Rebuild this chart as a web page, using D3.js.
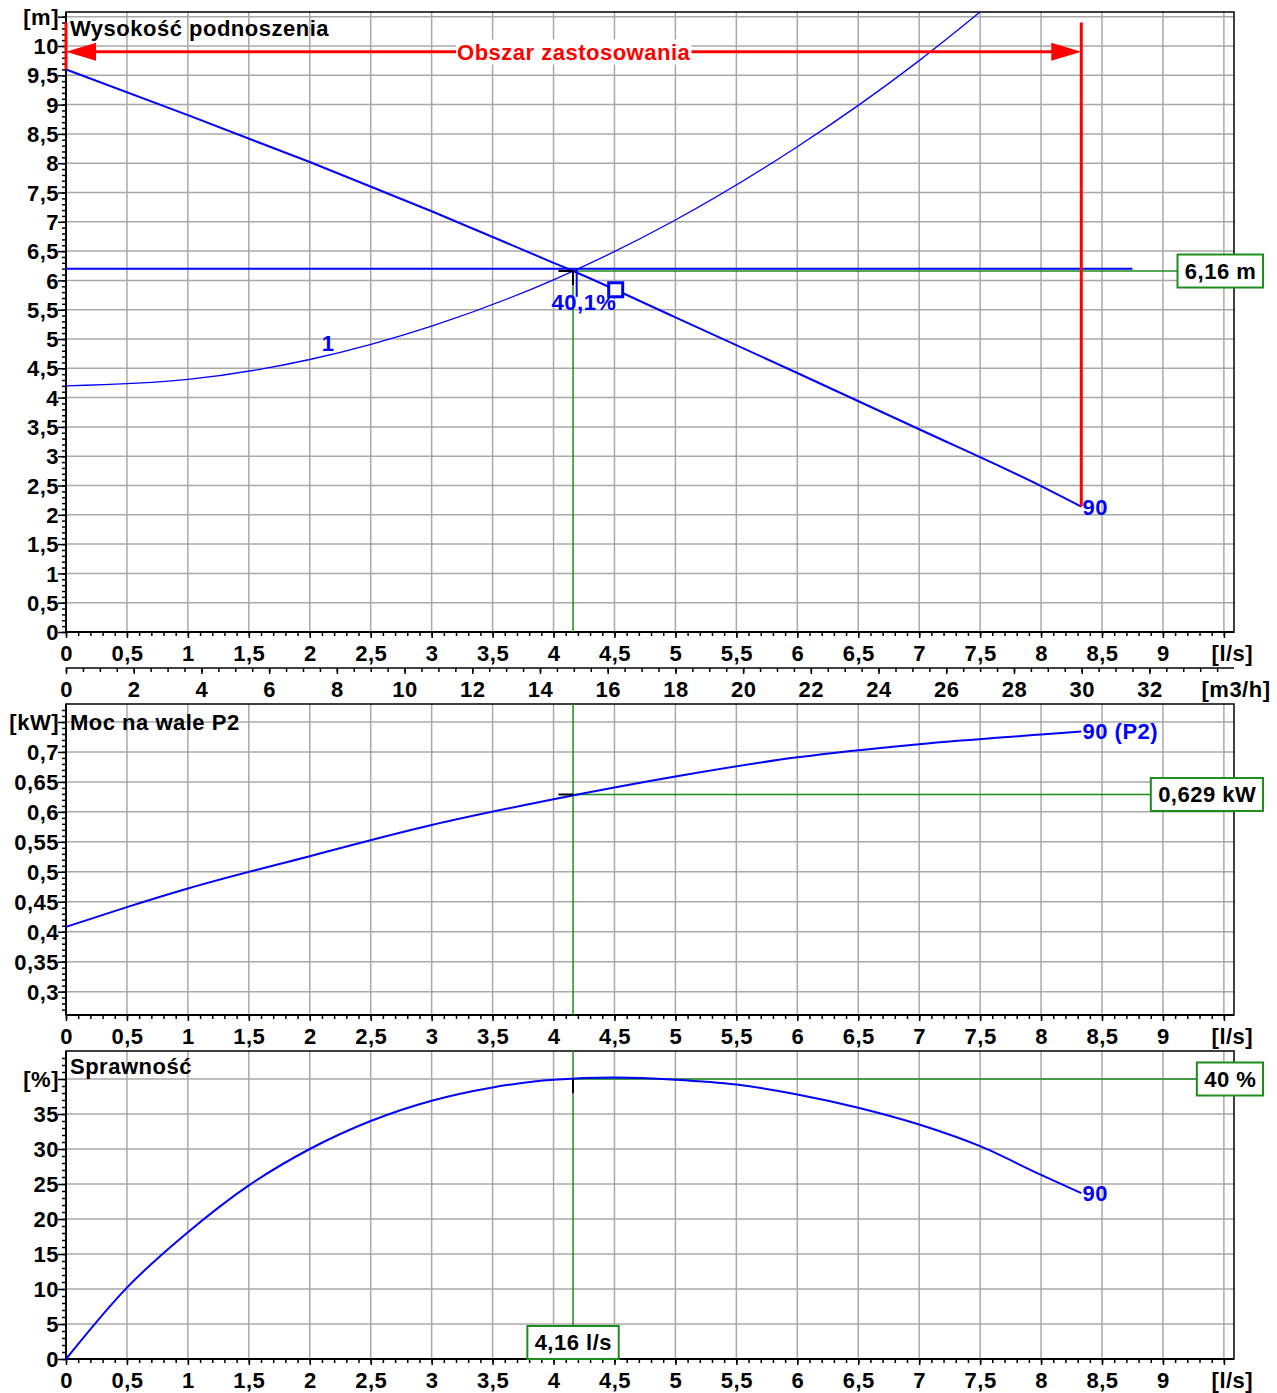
<!DOCTYPE html>
<html>
<head>
<meta charset="utf-8">
<script src="https://cdn.jsdelivr.net/npm/d3@7"></script>
<style>
  body { margin: 0; background: #fff; }
  text { font-family: "Liberation Sans", Arial, sans-serif; font-weight: bold; letter-spacing: 0.5px; }
</style>
</head>
<body>
<div id="chart"></div>
<script>
// ---- data (flow in l/s) ----
const pumpQ = [0, 1, 2, 3, 4, 4.16, 5, 6, 7, 8, 8.33];
const pumpH = [9.6, 8.82, 8.02, 7.18, 6.3, 6.16, 5.37, 4.42, 3.46, 2.49, 2.14];

const sysQ = [0, 1, 2, 3, 4, 5, 6, 7, 7.5];
const sysH = [4.2, 4.31, 4.65, 5.22, 6.01, 7.03, 8.28, 9.75, 10.58];

const powQ = [0, 0.5, 1, 2, 3, 4, 5, 6, 7, 8, 8.33];
const powP = [0.408, 0.441, 0.472, 0.526, 0.578, 0.621, 0.659, 0.691, 0.713, 0.729, 0.734];

const effQ = [0, 0.5, 1, 1.5, 2, 2.5, 3, 3.5, 4, 4.5, 5, 5.5, 6, 6.5, 7, 7.5, 8, 8.33];
const effE = [0, 10.2, 18.1, 24.8, 30, 34, 36.9, 38.8, 39.9, 40.2, 39.9, 39.2, 37.8, 35.9, 33.5, 30.4, 26.3, 23.7];

// operating point, best efficiency point, duty line
const opQ = 4.16, opH = 6.16, opP = 0.629, opEta = 40, opEtaPump = 40.1;
const bepQ = 4.51, bepH = 5.84;
const dutyH = 6.2, dutyQmax = 8.75;
const appQ = [0, 8.33], appTopH = 10.4, appArrowH = 9.9;

// tick labels
const xTicksLs = [0, 0.5, 1, 1.5, 2, 2.5, 3, 3.5, 4, 4.5, 5, 5.5, 6, 6.5, 7, 7.5, 8, 8.5, 9, 9.5];
const xTicksM3h = [0, 2, 4, 6, 8, 10, 12, 14, 16, 18, 20, 22, 24, 26, 28, 30, 32];
const yTicksH = [0, 0.5, 1, 1.5, 2, 2.5, 3, 3.5, 4, 4.5, 5, 5.5, 6, 6.5, 7, 7.5, 8, 8.5, 9, 9.5, 10, 10.5];
const yTicksP = [0.3, 0.35, 0.4, 0.45, 0.5, 0.55, 0.6, 0.65, 0.7, 0.75];
const yTicksE = [0, 5, 10, 15, 20, 25, 30, 35, 40];

const W = 1277, H = 1393, FS = 22;
const blue = '#0000ff', red = '#ff0000', green = '#1f8c1f', grid = '#a8a8a8';
const fmt = d => String(d).replace('.', ',');

const svg = d3.select('#chart').append('svg')
  .attr('width', W).attr('height', H);

const x = d3.scaleLinear().domain([0, 9.583]).range([66, 1234]);
const xm3 = d3.scaleLinear().domain([0, 9.583 * 3.6]).range([66, 1234]);

const yH = d3.scaleLinear().domain([0, 10.58]).range([632, 12]);
const yP = d3.scaleLinear().domain([0.261, 0.78]).range([1015, 704]);
const yE = d3.scaleLinear().domain([0, 44]).range([1359, 1051]);

function styleAxis(g) {
  g.select('.domain').remove();
  g.selectAll('.tick line').attr('stroke', '#000').attr('stroke-width', 1.5);
  g.selectAll('text').attr('font-size', FS).attr('font-weight', 'bold')
    .attr('font-family', '"Liberation Sans", Arial, sans-serif').attr('fill', '#000');
}

function xAxisAt(yPos, scale, ticks, minorStep, unit) {
  const g = svg.append('g').attr('transform', `translate(0,${yPos})`);
  const dmax = scale.domain()[1];
  g.append('g').call(d3.axisBottom(scale).tickValues(d3.range(0, dmax, minorStep)).tickSize(4).tickFormat(''))
    .call(styleAxis);
  g.append('g').call(d3.axisBottom(scale).tickValues(ticks).tickSize(6).tickPadding(7.5)
      .tickFormat(d => unit && d === ticks[ticks.length - 1] ? unit : fmt(d)))
    .call(styleAxis)
    .selectAll('text').filter(d => unit && d === ticks[ticks.length - 1]).attr('dx', 8);
  return g;
}

function panel(y, ticks, minorStep, unit, title, titleY) {
  const [yb, yt] = y.range();
  const [x0, x1] = x.range();
  // grid
  svg.append('g').selectAll('line').data(xTicksLs.slice(1)).join('line')
    .attr('x1', d => x(d)).attr('x2', d => x(d)).attr('y1', yt).attr('y2', yb)
    .attr('stroke', grid).attr('stroke-width', 1.5);
  svg.append('g').selectAll('line').data(ticks.filter(d => y(d) < yb - 1 && y(d) > yt + 3)).join('line')
    .attr('x1', x0).attr('x2', x1).attr('y1', d => y(d)).attr('y2', d => y(d))
    .attr('stroke', grid).attr('stroke-width', 1.5);
  // y axis
  const dom = y.domain();
  const g = svg.append('g').attr('transform', `translate(${x0},0)`);
  g.append('g').call(d3.axisLeft(y).tickValues(d3.range(Math.ceil(dom[0] / minorStep) * minorStep, dom[1], minorStep)).tickSize(4).tickFormat(''))
    .call(styleAxis);
  g.append('g').call(d3.axisLeft(y).tickValues(ticks).tickSize(8).tickPadding(-1)
      .tickFormat(d => d === ticks[ticks.length - 1] ? unit : fmt(d)))
    .call(styleAxis)
    .selectAll('text').attr('dy', '0.35em');
  // frame
  svg.append('rect').attr('x', x0).attr('y', yt).attr('width', x1 - x0).attr('height', yb - yt)
    .attr('fill', 'none').attr('stroke', '#000').attr('stroke-width', 1.5);
  svg.append('line').attr('x1', x0).attr('x2', x0).attr('y1', yt).attr('y2', yb)
    .attr('stroke', '#000').attr('stroke-width', 2);
  svg.append('line').attr('x1', x0).attr('x2', x1).attr('y1', yb).attr('y2', yb)
    .attr('stroke', '#000').attr('stroke-width', 2);
  svg.append('text').attr('x', x0 + 4).attr('y', titleY).attr('font-size', FS).text(title);
}

function curve(qs, vs, y, width) {
  const line = d3.line().x(d => x(d[0])).y(d => y(d[1])).curve(d3.curveMonotoneX);
  svg.append('path').datum(qs.map((q, i) => [q, vs[i]])).attr('d', line)
    .attr('fill', 'none').attr('stroke', blue).attr('stroke-width', width);
}

function seg(q1, v1, q2, v2, y, color, w) {
  svg.append('line').attr('x1', x(q1)).attr('y1', y(v1)).attr('x2', x(q2)).attr('y2', y(v2))
    .attr('stroke', color).attr('stroke-width', w);
}

function box(txt, cx, cy, anchorRight) {
  const t = svg.append('text').attr('font-size', FS).attr('dy', '0.35em').text(txt);
  const w = t.node().getBBox().width + 14, h = 33;
  const left = anchorRight ? 1263 - w : cx - w / 2;
  svg.insert('rect', () => t.node()).attr('x', left).attr('y', cy - h / 2).attr('width', w).attr('height', h)
    .attr('fill', '#fff').attr('stroke', green).attr('stroke-width', 2);
  t.attr('x', left + w / 2 + 0.3).attr('y', cy).attr('text-anchor', 'middle');
  return left;
}

function blueLabel(txt, q, v, y, anchor) {
  svg.append('text').attr('x', x(q)).attr('y', y(v)).attr('dy', '0.35em')
    .attr('text-anchor', anchor).attr('font-size', FS).attr('fill', blue).text(txt);
}

// ---------- panel 1: head ----------
panel(yH, yTicksH, 0.1, '[m]', 'Wysokość podnoszenia', 36);
xAxisAt(632, x, xTicksLs, 0.1, '[l/s]');
xAxisAt(668, xm3, xTicksM3h, 0.5, null);
svg.append('line').attr('x1', 66).attr('x2', 1234).attr('y1', 668).attr('y2', 668)
  .attr('stroke', '#000').attr('stroke-width', 1.5);
svg.append('text').attr('x', 1236).attr('y', 697).attr('text-anchor', 'middle').attr('font-size', FS).text('[m3/h]');

// green operating lines
const box1 = box(fmt(opH) + ' m', 0, yH(opH), true);
svg.append('line').attr('x1', x(opQ)).attr('x2', box1).attr('y1', yH(opH)).attr('y2', yH(opH))
  .attr('stroke', green).attr('stroke-width', 1.5);
seg(opQ, opH, opQ, 0, yH, green, 1.5);

// duty line
seg(0, dutyH, dutyQmax, dutyH, yH, blue, 2);
curve(sysQ, sysH, yH, 1.3);
curve(pumpQ, pumpH, yH, 2);
// black marks at the operating point
seg(4.04, opH, opQ, opH, yH, '#000', 2);
seg(opQ, opH, opQ, 5.92, yH, '#000', 2);
seg(4.19, dutyH, 4.19, 5.72, yH, blue, 2);
blueLabel(fmt(opEtaPump) + '%', 4.25, 5.62, yH, 'middle');
svg.append('rect').attr('x', x(bepQ) - 7).attr('y', yH(bepH) - 7).attr('width', 14).attr('height', 14)
  .attr('fill', '#fff').attr('stroke', blue).attr('stroke-width', 3);
blueLabel('1', 2.15, 4.93, yH, 'middle');
blueLabel('90', 8.34, 2.12, yH, 'start');

// application range (red)
seg(appQ[0], pumpH[0], appQ[0], appTopH, yH, red, 3);
seg(appQ[1], pumpH[pumpH.length - 1], appQ[1], appTopH, yH, red, 3);
seg(appQ[0] + 0.2, appArrowH, appQ[1] - 0.2, appArrowH, yH, red, 3);
const ay = yH(appArrowH);
svg.append('path').attr('d', `M${x(appQ[0])},${ay}L${x(appQ[0]) + 30},${ay - 9}L${x(appQ[0]) + 30},${ay + 9}Z`).attr('fill', red);
svg.append('path').attr('d', `M${x(appQ[1])},${ay}L${x(appQ[1]) - 30},${ay - 9}L${x(appQ[1]) - 30},${ay + 9}Z`).attr('fill', red);
const at = svg.append('text').attr('x', (x(appQ[0]) + x(appQ[1])) / 2).attr('y', ay).attr('dy', '0.35em')
  .attr('text-anchor', 'middle').attr('font-size', FS).attr('fill', red).text('Obszar zastosowania');
const ab = at.node().getBBox();
svg.insert('rect', () => at.node()).attr('x', ab.x - 1).attr('y', ab.y).attr('width', ab.width + 2).attr('height', ab.height).attr('fill', '#fff');

// ---------- panel 2: power ----------
panel(yP, yTicksP, 0.01, '[kW]', 'Moc na wale P2', 730);
xAxisAt(1015, x, xTicksLs, 0.1, '[l/s]');
seg(opQ, yP.domain()[1], opQ, yP.domain()[0], yP, green, 1.5);
const box2 = box(fmt(opP) + ' kW', 0, yP(opP), true);
svg.append('line').attr('x1', x(opQ)).attr('x2', box2).attr('y1', yP(opP)).attr('y2', yP(opP))
  .attr('stroke', green).attr('stroke-width', 1.5);
curve(powQ, powP, yP, 2);
seg(4.04, opP, opQ, opP, yP, '#000', 2);
blueLabel('90 (P2)', 8.34, powP[powP.length - 1], yP, 'start');

// ---------- panel 3: efficiency ----------
panel(yE, yTicksE, 1, '[%]', 'Sprawność', 1074);
xAxisAt(1359, x, xTicksLs, 0.1, '[l/s]');
const box3 = box(opEta + ' %', 0, yE(opEta), true);
svg.append('line').attr('x1', x(opQ)).attr('x2', box3).attr('y1', yE(opEta)).attr('y2', yE(opEta))
  .attr('stroke', green).attr('stroke-width', 1.5);
box(fmt(opQ) + ' l/s', x(opQ), 1342.5, false);
svg.append('line').attr('x1', x(opQ)).attr('x2', x(opQ)).attr('y1', yE.range()[1]).attr('y2', 1326)
  .attr('stroke', green).attr('stroke-width', 1.5);
curve(effQ, effE, yE, 2);
seg(opQ, opEta, opQ, 38, yE, '#000', 2);
blueLabel('90', 8.34, effE[effE.length - 1], yE, 'start');
</script>
</body>
</html>
